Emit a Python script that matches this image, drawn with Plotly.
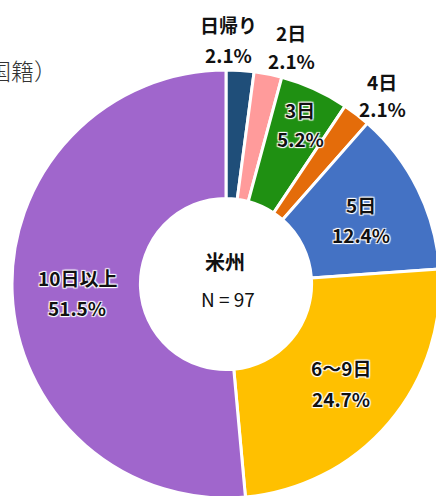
import plotly.graph_objects as go

labels = ["日帰り", "2日", "3日", "4日", "5日", "6～9日", "10日以上"]
pct = [2.1, 2.1, 5.2, 2.1, 12.4, 24.7, 51.5]
colors = ["#1f4e79", "#ff9b9b", "#1f9012", "#e46c0a", "#4472c4", "#ffc000", "#a066cc"]
center_title = "米州"
n_total = 97

W, H = 444, 498  # slightly larger than the window; right/bottom edge is cropped like the reference
FONT = "Noto Sans CJK JP, Noto Sans, sans-serif"

fig = go.Figure(go.Pie(
    labels=labels, values=pct, sort=False, direction="clockwise", rotation=0,
    hole=0.40, textinfo="none", hoverinfo="label+value",
    marker=dict(colors=colors, line=dict(color="white", width=3)),
    domain=dict(x=[12 / W, 440 / W], y=[0.0, 428 / H]),
    showlegend=False,
))

# label pixel positions (center of each text line): (x, y_label, y_pct, inside)
pos = [
    (229, 24, 54, False),
    (291, 32, 61, False),
    (300, 110, 139, True),
    (382, 81, 108, False),
    (361, 204, 234, True),
    (341, 367, 398, True),
    (77, 277, 307, True),
]
halo = "1px 1px 1px white, -1px -1px 1px white, 1px -1px 1px white, -1px 1px 1px white"

ann = []
for (x, y1, y2, inside), lab, p in zip(pos, labels, pct):
    for txt, yy in ((lab, y1), (f"{p:.1f}%", y2)):
        f = dict(family=FONT, size=19, color="#111111", weight=600)
        if inside:
            f["shadow"] = halo
        ann.append(dict(text=txt, x=x / W, y=1 - yy / H, xref="paper", yref="paper",
                        xanchor="center", yanchor="middle", showarrow=False, font=f))

ann.append(dict(text=center_title, x=225 / W, y=1 - 261 / H, xref="paper", yref="paper",
                showarrow=False, font=dict(family=FONT, size=20, color="#111111", weight="bold")))
ann.append(dict(text=f"N = {n_total}", x=228 / W, y=1 - 298 / H, xref="paper", yref="paper",
                showarrow=False, font=dict(family=FONT, size=19, color="#111111")))
ann.append(dict(text="（国籍）", x=59 / W, y=1 - 70 / H, xref="paper", yref="paper",
                xanchor="right", yanchor="middle", showarrow=False,
                font=dict(family="Noto Sans CJK JP, serif", size=23, color="#333333", weight=300)))

fig.update_layout(
    width=W, height=H, margin=dict(l=0, r=0, t=0, b=0),
    paper_bgcolor="white", plot_bgcolor="white",
    annotations=ann,
)
fig.write_html("out.html", config={"displayModeBar": False},
               post_script="document.body.style.margin='0';document.body.style.overflow='hidden';")
